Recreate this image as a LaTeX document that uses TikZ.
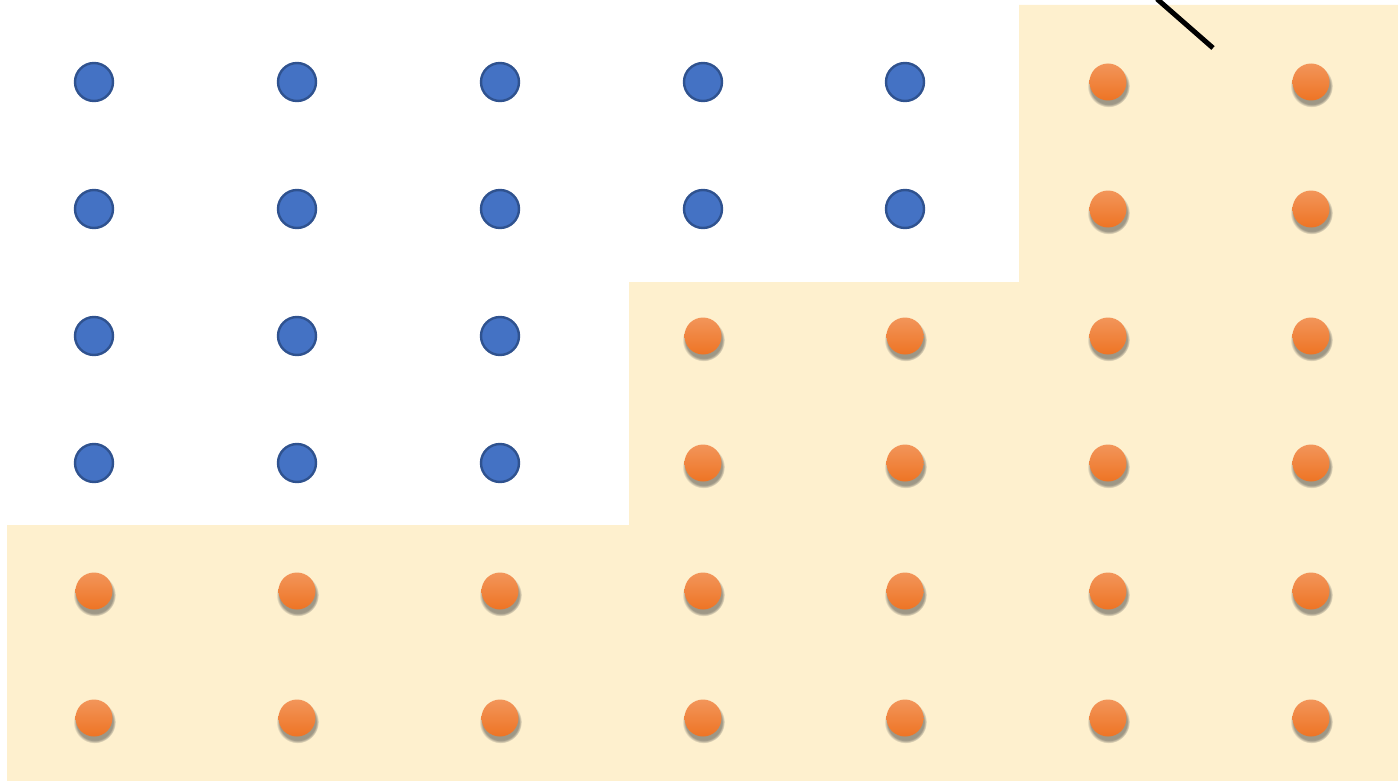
\documentclass[tikz,border=0pt]{standalone}
\usetikzlibrary{shadows}
\definecolor{beige}{HTML}{FEF0CE}
\definecolor{bluefill}{HTML}{4472C4}
\definecolor{blueline}{HTML}{2F528F}
\definecolor{orTop}{HTML}{F2955A}
\definecolor{orBot}{HTML}{EE7424}
\tikzset{
  bluedot/.style={circle, minimum size=38pt, inner sep=0pt, fill=bluefill, draw=blueline, line width=2.4pt},
  orangedot/.style={circle, minimum size=37pt, inner sep=0pt, top color=orTop, bottom color=orBot, draw=none,
    circular drop shadow={shadow xshift=0.5pt, shadow yshift=-3.5pt, shadow scale=1.15, fill=black!75, opacity=0.5}},
}
\begin{document}
\begin{tikzpicture}[x=1pt,y=-1pt]
\useasboundingbox (0,0) rectangle (1398,781);
\fill[beige] (1019,5) -- (1398,5) -- (1398,781) -- (7,781) -- (7,525) -- (629,525) -- (629,282) -- (1019,282) -- cycle;
\coordinate (l1) at (1157,-1);
\coordinate (l2) at (1213,48);
\draw[line width=5pt] (l1) -- (l2);
\foreach \c/\x in {1/94,2/297,3/500,4/703,5/905,6/1108,7/1311}{
  \foreach \r/\y in {1/82,2/209,3/336,4/463,5/591,6/718}{
    \pgfmathtruncatemacro{\isblue}{(\r<=2 && \c<=5) || (\r>=3 && \r<=4 && \c<=3) ? 1 : 0}
    \ifnum\isblue=1
      \node[bluedot] (d\r\c) at (\x,\y) {};
    \else
      \node[orangedot] (d\r\c) at (\x,\y) {};
    \fi
  }
}
\end{tikzpicture}
\end{document}
